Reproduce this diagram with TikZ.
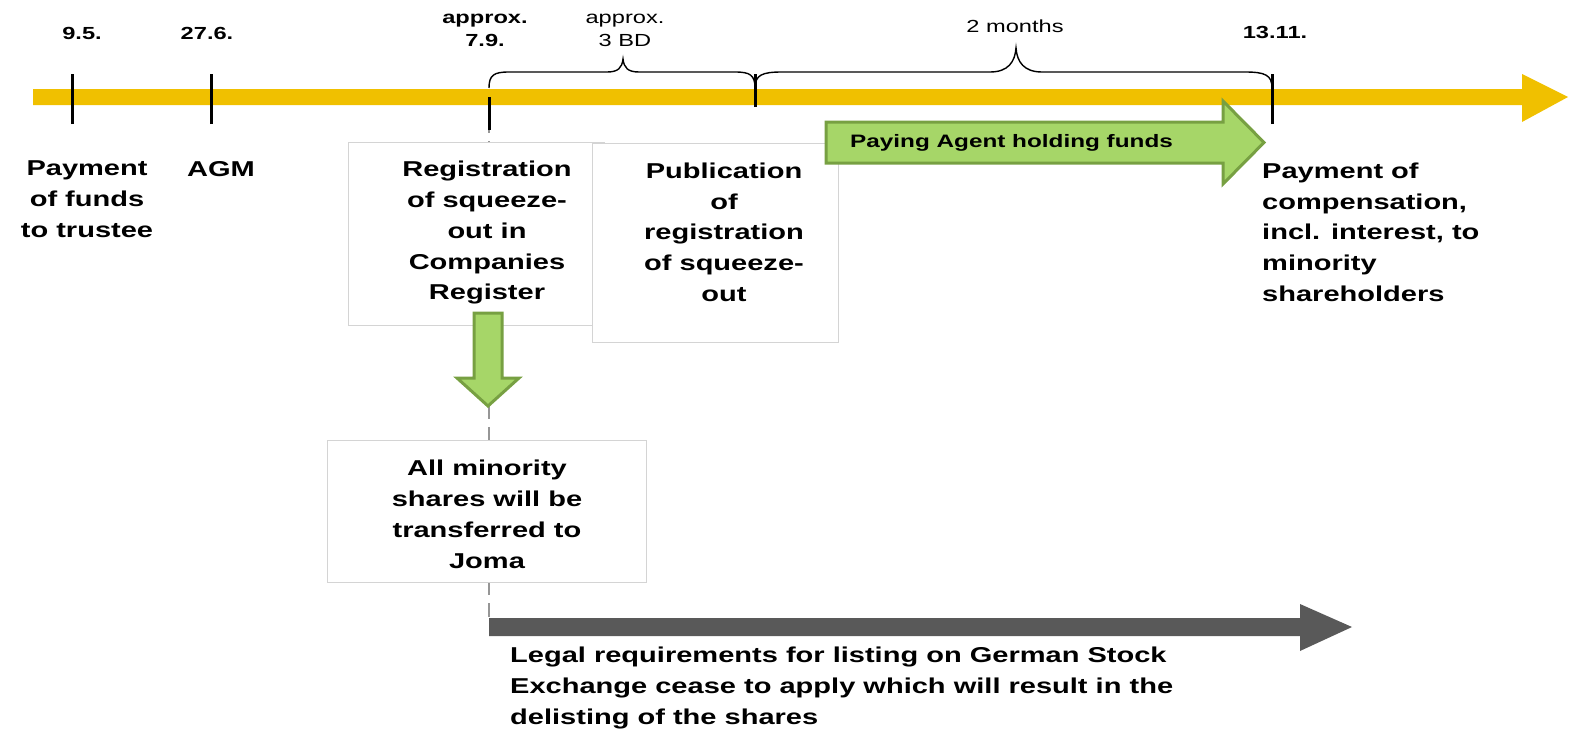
\documentclass[tikz,border=0pt]{standalone}
\usepackage{fontspec}
\setmainfont{Liberation Sans}[FakeStretch=1.35]
\definecolor{tlyellow}{RGB}{240,192,0}
\definecolor{greenfill}{RGB}{166,214,104}
\definecolor{greenline}{RGB}{119,160,66}
\definecolor{darkarrow}{RGB}{89,89,89}
\definecolor{dashgray}{RGB}{150,150,150}
\definecolor{boxgray}{RGB}{212,212,212}
\begin{document}
\begin{tikzpicture}[x=1pt,y=-1pt,
  lbl/.style={font=\fontsize{21.5}{30.8}\selectfont\bfseries, inner sep=0pt, align=center},
  lbll/.style={lbl, align=left},
  small/.style={font=\fontsize{17.5}{23}\selectfont\bfseries, inner sep=0pt, align=center},
  smallreg/.style={font=\fontsize{17.5}{23}\selectfont, inner sep=0pt, align=center},
  box/.style={draw=boxgray, fill=white, line width=1pt, inner sep=0pt},
  tick/.style={line width=3pt, black},
  brace/.style={line width=1.4pt, black},
  greenarrow/.style={fill=greenfill, draw=greenline, line width=3pt, line join=miter},
]
\useasboundingbox (0,0) rectangle (1571,728);

% coordinates on the timeline
\coordinate (t1) at (72,97);
\coordinate (t2) at (211,97);
\coordinate (t3) at (489,97);
\coordinate (t4) at (755,97);
\coordinate (t5) at (1272,97);
\coordinate (dashend) at (489,618);

% dashed guide line
\draw[dashgray, line width=2.5pt, dash pattern=on 14pt off 8pt] (t3) -- (dashend);

% boxes
\node[box, minimum width=256pt, minimum height=183pt] (box1) at (476,233.5) {};
\node[box, minimum width=246pt, minimum height=199pt] (box2) at (715,243) {};
\node[box, minimum width=319pt, minimum height=142pt] (box3) at (486.5,511) {};

% timeline bar
\fill[tlyellow] (33,89) -- (1522,89) -- (1522,74) -- (1568,97) -- (1522,122) -- (1522,105) -- (33,105) -- cycle;

% ticks
\draw[tick] ([yshift=-27pt]t1) -- ([yshift=23pt]t1);
\draw[tick] ([yshift=-27pt]t2) -- ([yshift=23pt]t2);
\draw[tick] ([yshift=-33pt]t3) -- (t3);
\draw[tick] ([yshift=-10pt]t4) -- ([yshift=23pt]t4);
\draw[tick] ([yshift=-27pt]t5) -- ([yshift=23pt]t5);

% braces
\draw[brace] (489,88) .. controls (489,75) and (494,72) .. (509,72) -- (607,72)
  .. controls (618,72) and (622,68) .. (623,59)
  .. controls (624,68) and (628,72) .. (639,72) -- (735,72)
  .. controls (750,72) and (755,75) .. (755,88);
\draw[brace] (755,88) .. controls (755,75) and (762,72) .. (782,72) -- (990,72)
  .. controls (1008,72) and (1015,62) .. (1016,48)
  .. controls (1017,62) and (1024,72) .. (1042,72) -- (1245,72)
  .. controls (1265,72) and (1272,75) .. (1272,88);

% green arrows
\draw[greenarrow] (826,122) -- (1223,122) -- (1223,101) -- (1264,142.5) -- (1223,184) -- (1223,163) -- (826,163) -- cycle;
\draw[greenarrow] (474,313) -- (502,313) -- (502,378) -- (519,378) -- (488,406) -- (457,378) -- (474,378) -- cycle;

% dark arrow
\fill[darkarrow] (489,618) -- (1300,618) -- (1300,604) -- (1352,627) -- (1300,651) -- (1300,636) -- (489,636) -- cycle;

% top labels
\node[small, anchor=base] (d1) at (82,39) {9.5.};
\node[small, anchor=base] (d2) at (207,39) {27.6.};
\node[small, anchor=north] (d3) at (485,14) {approx.\\7.9.};
\node[smallreg, anchor=north] (d4) at (625,14) {approx.\\3 BD};
\node[smallreg, anchor=base] (d5) at (1015,32) {2 months};
\node[small, anchor=base] (d6) at (1275,38) {13.11.};

% texts
\node[lbl, anchor=north] (l1) at (87,161) {Payment\\of funds\\to trustee};
\node[lbl, anchor=base] (l2) at (221,176) {AGM};
\node[lbl, anchor=north] (l3) at (487,161) {Registration\\of squeeze-\\out in\\Companies\\Register};
\node[lbl, anchor=north] (l4) at (724,162.5) {Publication\\of\\registration\\of squeeze-\\out};
\node[lbll, anchor=north west] (l5) at (1262,162.5) {Payment of\\compensation,\\incl. interest, to\\minority\\shareholders};
\node[lbl, anchor=north] (l6) at (487,460) {All minority\\shares will be\\transferred to\\Joma};
\node[lbll, anchor=north west] (l7) at (510,647) {Legal requirements for listing on German Stock\\Exchange cease to apply which will result in the\\delisting of the shares};
\node[font=\fontsize{18}{22}\selectfont\bfseries, inner sep=0pt, anchor=base west] (l8) at (850,147) {Paying Agent holding funds};
\end{tikzpicture}
\end{document}
